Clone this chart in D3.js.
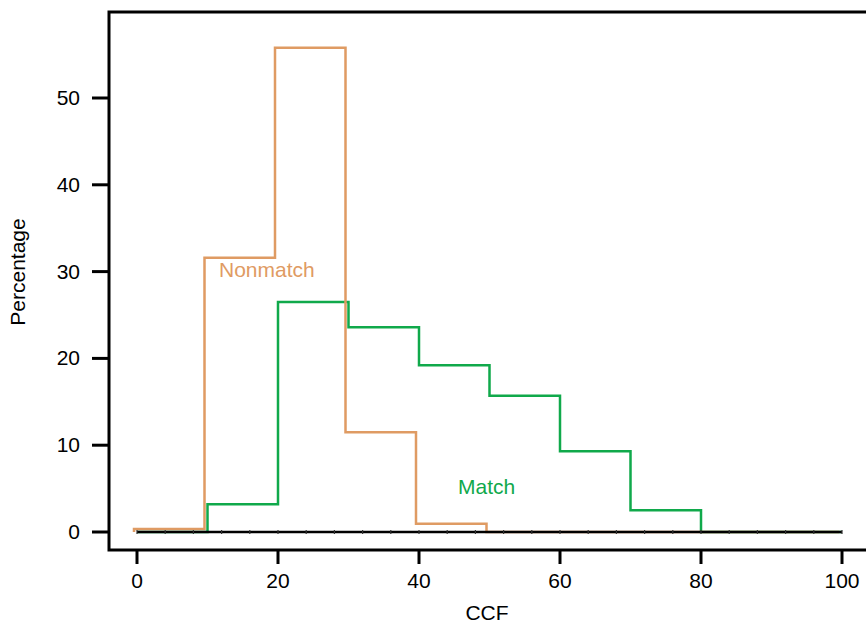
<!DOCTYPE html>
<html lang="en">
<head>
<meta charset="UTF-8">
<title>CCF histogram</title>
<script src="https://d3js.org/d3.v7.min.js"></script>
<style>
  body { margin: 0; background: #fff; }
  text { font-family: "Liberation Sans", Arial, sans-serif; }
</style>
</head>
<body>
<svg id="chart" width="866" height="623"></svg>
<script>
// bin edges (CCF) and percentages per bin
const binEdges = [0, 10, 20, 30, 40, 50, 60, 70, 80, 90, 100];
const nonmatch = [0.35, 31.6, 55.8, 11.5, 0.95, 0, 0, 0, 0, 0];
const match = [0, 3.2, 26.5, 23.6, 19.2, 15.7, 9.3, 2.5, 0, 0];
const xTicks = [0, 20, 40, 60, 80, 100];
const yTicks = [0, 10, 20, 30, 40, 50];
const rugTicks = d3.range(0, 101, 4);

const fs = 21;
const svg = d3.select("#chart");
const x = d3.scaleLinear().domain([0, 100]).range([137, 842]);
const y = d3.scaleLinear().domain([0, 50]).range([532, 98]);

// frame (right side runs off the image)
svg.append("path")
    .attr("d", "M880,12 H109 V550 H880")
    .attr("fill", "none").attr("stroke", "#000").attr("stroke-width", 3);

// y axis
const yAxis = svg.append("g");
yAxis.selectAll("line").data(yTicks).join("line")
    .attr("x1", 92).attr("x2", 109)
    .attr("y1", d => y(d)).attr("y2", d => y(d))
    .attr("stroke", "#000").attr("stroke-width", 3);
yAxis.selectAll("text").data(yTicks).join("text")
    .attr("x", 80).attr("y", d => y(d) + 7)
    .attr("text-anchor", "end").attr("font-size", fs)
    .text(d => d);

// x axis
const xAxis = svg.append("g");
xAxis.selectAll("line").data(xTicks).join("line")
    .attr("x1", d => x(d)).attr("x2", d => x(d))
    .attr("y1", 550).attr("y2", 564)
    .attr("stroke", "#000").attr("stroke-width", 3);
xAxis.selectAll("text").data(xTicks).join("text")
    .attr("x", d => x(d)).attr("y", 588)
    .attr("text-anchor", "middle").attr("font-size", fs)
    .text(d => d);

svg.append("text").attr("x", 487).attr("y", 620)
    .attr("text-anchor", "middle").attr("font-size", fs).text("CCF");
svg.append("text")
    .attr("transform", "translate(25,272) rotate(-90)")
    .attr("text-anchor", "middle").attr("font-size", fs).text("Percentage");

// step outline of a histogram
function stepPath(vals) {
  const pts = [[binEdges[0], 0]];
  vals.forEach((v, i) => {
    pts.push([binEdges[i], v]);
    pts.push([binEdges[i + 1], v]);
  });
  pts.push([binEdges[binEdges.length - 1], 0]);
  return d3.line().x(d => x(d[0])).y(d => y(d[1]))(pts);
}

svg.append("path").attr("d", stepPath(match))
    .attr("fill", "none").attr("stroke", "#10a94b").attr("stroke-width", 2.5);
svg.append("path").attr("d", stepPath(nonmatch))
    .attr("fill", "none").attr("stroke", "#df9b63").attr("stroke-width", 2.5)
    .attr("transform", "translate(-3,0)");

// baseline with small rug ticks
svg.append("line")
    .attr("x1", x(0)).attr("x2", x(100)).attr("y1", y(0)).attr("y2", y(0))
    .attr("stroke", "#000").attr("stroke-width", 2.5);
svg.append("g").selectAll("line").data(rugTicks).join("line")
    .attr("x1", d => x(d)).attr("x2", d => x(d))
    .attr("y1", y(0) - 2).attr("y2", y(0) + 2)
    .attr("stroke", "#333").attr("stroke-width", 1.2);

svg.append("text").attr("x", 219).attr("y", 277)
    .attr("font-size", fs).attr("fill", "#df9b63").text("Nonmatch");
svg.append("text").attr("x", 458).attr("y", 494)
    .attr("font-size", fs).attr("fill", "#10a94b").text("Match");
</script>
</body>
</html>
